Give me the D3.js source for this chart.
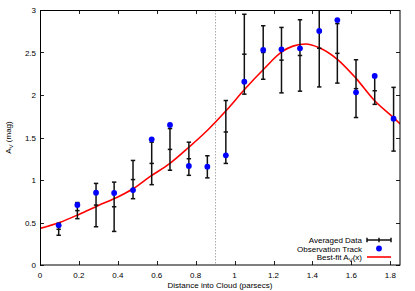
<!DOCTYPE html>
<html>
<head>
<meta charset="utf-8">
<script src="https://cdn.jsdelivr.net/npm/d3@7"></script>
<style>
  body { margin: 0; background: #fff; }
  svg text { font-family: "Liberation Sans", Arial, sans-serif; font-size: 8px; fill: #000; }
</style>
</head>
<body>
<div id="chart"></div>
<script>
// distance bins (parsecs)
const distance = [0.096, 0.192, 0.288, 0.381, 0.478, 0.574, 0.668, 0.765, 0.860, 0.955,
                  1.050, 1.147, 1.241, 1.336, 1.435, 1.528, 1.624, 1.720, 1.817];
// averaged data: mean and half-width of error bar
const avgMean = [0.42, 0.64, 0.705, 0.685, 1.005, 1.195, 1.36, 1.25, 1.155, 1.565,
                 2.48, 2.50, 2.41, 2.465, 2.55, 2.49, 2.075, 2.05, 1.715];
const avgErr = [0.07, 0.095, 0.255, 0.29, 0.225, 0.25, 0.245, 0.195, 0.13, 0.37,
                0.47, 0.315, 0.385, 0.42, 0.455, 0.35, 0.34, 0.16, 0.375];
// observation track
const obsTrack = [0.467, 0.706, 0.851, 0.847, 0.882, 1.478, 1.647, 1.165, 1.157, 1.29,
                  2.157, 2.53, 2.537, 2.549, 2.753, 2.882, 2.031, 2.224, 1.721];
// best-fit curve
const fitX = [0, 0.1, 0.2, 0.3, 0.4, 0.48, 0.565, 0.668, 0.765, 0.862, 0.958, 1.053,
              1.148, 1.244, 1.30, 1.366, 1.435, 1.528, 1.624, 1.720, 1.817, 1.85];
const fitY = [0.43, 0.50, 0.595, 0.70, 0.80, 0.90, 1.04, 1.196, 1.385, 1.588, 1.82, 2.07,
              2.30, 2.51, 2.575, 2.60, 2.556, 2.42, 2.196, 1.933, 1.733, 1.66];
const xTicks = [0, 0.2, 0.4, 0.6, 0.8, 1, 1.2, 1.4, 1.6, 1.8];
const yTicks = [0, 0.5, 1, 1.5, 2, 2.5, 3];
const cloudEdge = 0.9;

const svgWidth = 415, svgHeight = 291;
const margin = { top: 10, right: 15, bottom: 26, left: 40 };
const width = svgWidth - margin.left - margin.right;
const height = svgHeight - margin.top - margin.bottom;

const svg = d3.select('#chart').append('svg')
   .attr('width', svgWidth)
   .attr('height', svgHeight);

const x = d3.scaleLinear().domain([0, 1.85]).range([margin.left, margin.left + width]);
const y = d3.scaleLinear().domain([0, 3]).range([margin.top + height, margin.top]);

svg.append('clipPath').attr('id', 'plot-clip')
   .append('rect')
   .attr('x', margin.left).attr('y', margin.top)
   .attr('width', width).attr('height', height);

// gnuplot style inward ticks, mirrored
const tickLen = 4;
const axes = svg.append('g').attr('stroke', '#222').attr('stroke-width', 1);
xTicks.forEach(t => {
    const px = Math.round(x(t)) + 0.5;
    axes.append('line').attr('x1', px).attr('x2', px)
       .attr('y1', margin.top + height).attr('y2', margin.top + height - tickLen);
    axes.append('line').attr('x1', px).attr('x2', px)
       .attr('y1', margin.top).attr('y2', margin.top + tickLen);
});
yTicks.forEach(t => {
    const py = Math.round(y(t)) + 0.5;
    axes.append('line').attr('x1', margin.left).attr('x2', margin.left + tickLen)
       .attr('y1', py).attr('y2', py);
    axes.append('line').attr('x1', margin.left + width).attr('x2', margin.left + width - tickLen)
       .attr('y1', py).attr('y2', py);
});

svg.selectAll('.xlab')
   .data(xTicks)
   .join('text')
   .attr('class', 'xlab')
   .attr('x', d => x(d))
   .attr('y', margin.top + height + 13)
   .attr('text-anchor', 'middle')
   .text(d => d);

svg.selectAll('.ylab')
   .data(yTicks)
   .join('text')
   .attr('class', 'ylab')
   .attr('x', margin.left - 4)
   .attr('y', d => y(d) + 3)
   .attr('text-anchor', 'end')
   .text(d => d);

svg.append('text')
   .attr('x', x(0.925))
   .attr('y', svgHeight - 3)
   .attr('text-anchor', 'middle')
   .text('Distance into Cloud (parsecs)');

const yTitle = svg.append('text')
   .attr('transform', `translate(11,${margin.top + height / 2}) rotate(-90)`)
   .attr('text-anchor', 'middle');
yTitle.append('tspan').text('A');
yTitle.append('tspan').attr('font-size', '6px').attr('dy', 2).text('V');
yTitle.append('tspan').attr('dy', -2).text(' (mag)');

// dotted line at cloud edge
svg.append('line')
   .attr('x1', Math.round(x(cloudEdge)) + 0.5).attr('x2', Math.round(x(cloudEdge)) + 0.5)
   .attr('y1', margin.top).attr('y2', margin.top + height)
   .attr('stroke', '#aaa').attr('stroke-width', 1)
   .attr('stroke-dasharray', '1.5,1.5');

const plot = svg.append('g').attr('clip-path', 'url(#plot-clip)');

// best-fit curve
const fitLine = d3.line()
   .x((d, i) => x(fitX[i]))
   .y(d => y(d))
   .curve(d3.curveMonotoneX);
plot.append('path')
   .datum(fitY)
   .attr('d', fitLine)
   .attr('fill', 'none')
   .attr('stroke', '#ff0000')
   .attr('stroke-width', 1.6);

// averaged data error bars
const capW = 2.2;
const bars = plot.selectAll('.ebar')
   .data(distance)
   .join('g')
   .attr('class', 'ebar')
   .attr('stroke', '#111')
   .attr('stroke-width', 1.5);
bars.append('line')
   .attr('x1', d => x(d)).attr('x2', d => x(d))
   .attr('y1', (d, i) => y(avgMean[i] - avgErr[i]))
   .attr('y2', (d, i) => y(avgMean[i] + avgErr[i]));
[-1, 0, 1].forEach(k => {
    bars.append('line')
       .attr('x1', d => x(d) - capW).attr('x2', d => x(d) + capW)
       .attr('y1', (d, i) => y(avgMean[i] + k * avgErr[i]))
       .attr('y2', (d, i) => y(avgMean[i] + k * avgErr[i]));
});

// observation track
plot.selectAll('.obs')
   .data(distance)
   .join('circle')
   .attr('class', 'obs')
   .attr('cx', d => x(d))
   .attr('cy', (d, i) => y(obsTrack[i]))
   .attr('r', 2.9)
   .attr('fill', '#0000ff');

// border
svg.append('rect')
   .attr('x', margin.left + 0.5).attr('y', margin.top + 0.5)
   .attr('width', width - 0.5).attr('height', height - 0.5)
   .attr('fill', 'none').attr('stroke', '#000').attr('stroke-width', 1);

// legend
const legend = svg.append('g');
const lx = 362, ly = [240, 248.5, 257];
const sx1 = 367, sx2 = 391;

legend.append('text').attr('x', lx).attr('y', ly[0] + 3).attr('text-anchor', 'end').text('Averaged Data');
const lg = legend.append('g').attr('stroke', '#111').attr('stroke-width', 1.5);
lg.append('line').attr('x1', sx1).attr('x2', sx2).attr('y1', ly[0]).attr('y2', ly[0]);
[sx1, (sx1 + sx2) / 2, sx2].forEach(px => {
    lg.append('line').attr('x1', px).attr('x2', px).attr('y1', ly[0] - 2.2).attr('y2', ly[0] + 2.2);
});

legend.append('text').attr('x', lx).attr('y', ly[1] + 3).attr('text-anchor', 'end').text('Observation Track');
legend.append('circle').attr('cx', (sx1 + sx2) / 2).attr('cy', ly[1]).attr('r', 2.9).attr('fill', '#0000ff');

const lt = legend.append('text').attr('x', lx).attr('y', ly[2] + 3).attr('text-anchor', 'end');
lt.append('tspan').text('Best-fit A');
lt.append('tspan').attr('font-size', '6px').attr('dy', 2).text('V');
lt.append('tspan').attr('dy', -2).text('(x)');
legend.append('line').attr('x1', sx1).attr('x2', sx2).attr('y1', ly[2]).attr('y2', ly[2])
   .attr('stroke', '#ff0000').attr('stroke-width', 1.6);
</script>
</body>
</html>
